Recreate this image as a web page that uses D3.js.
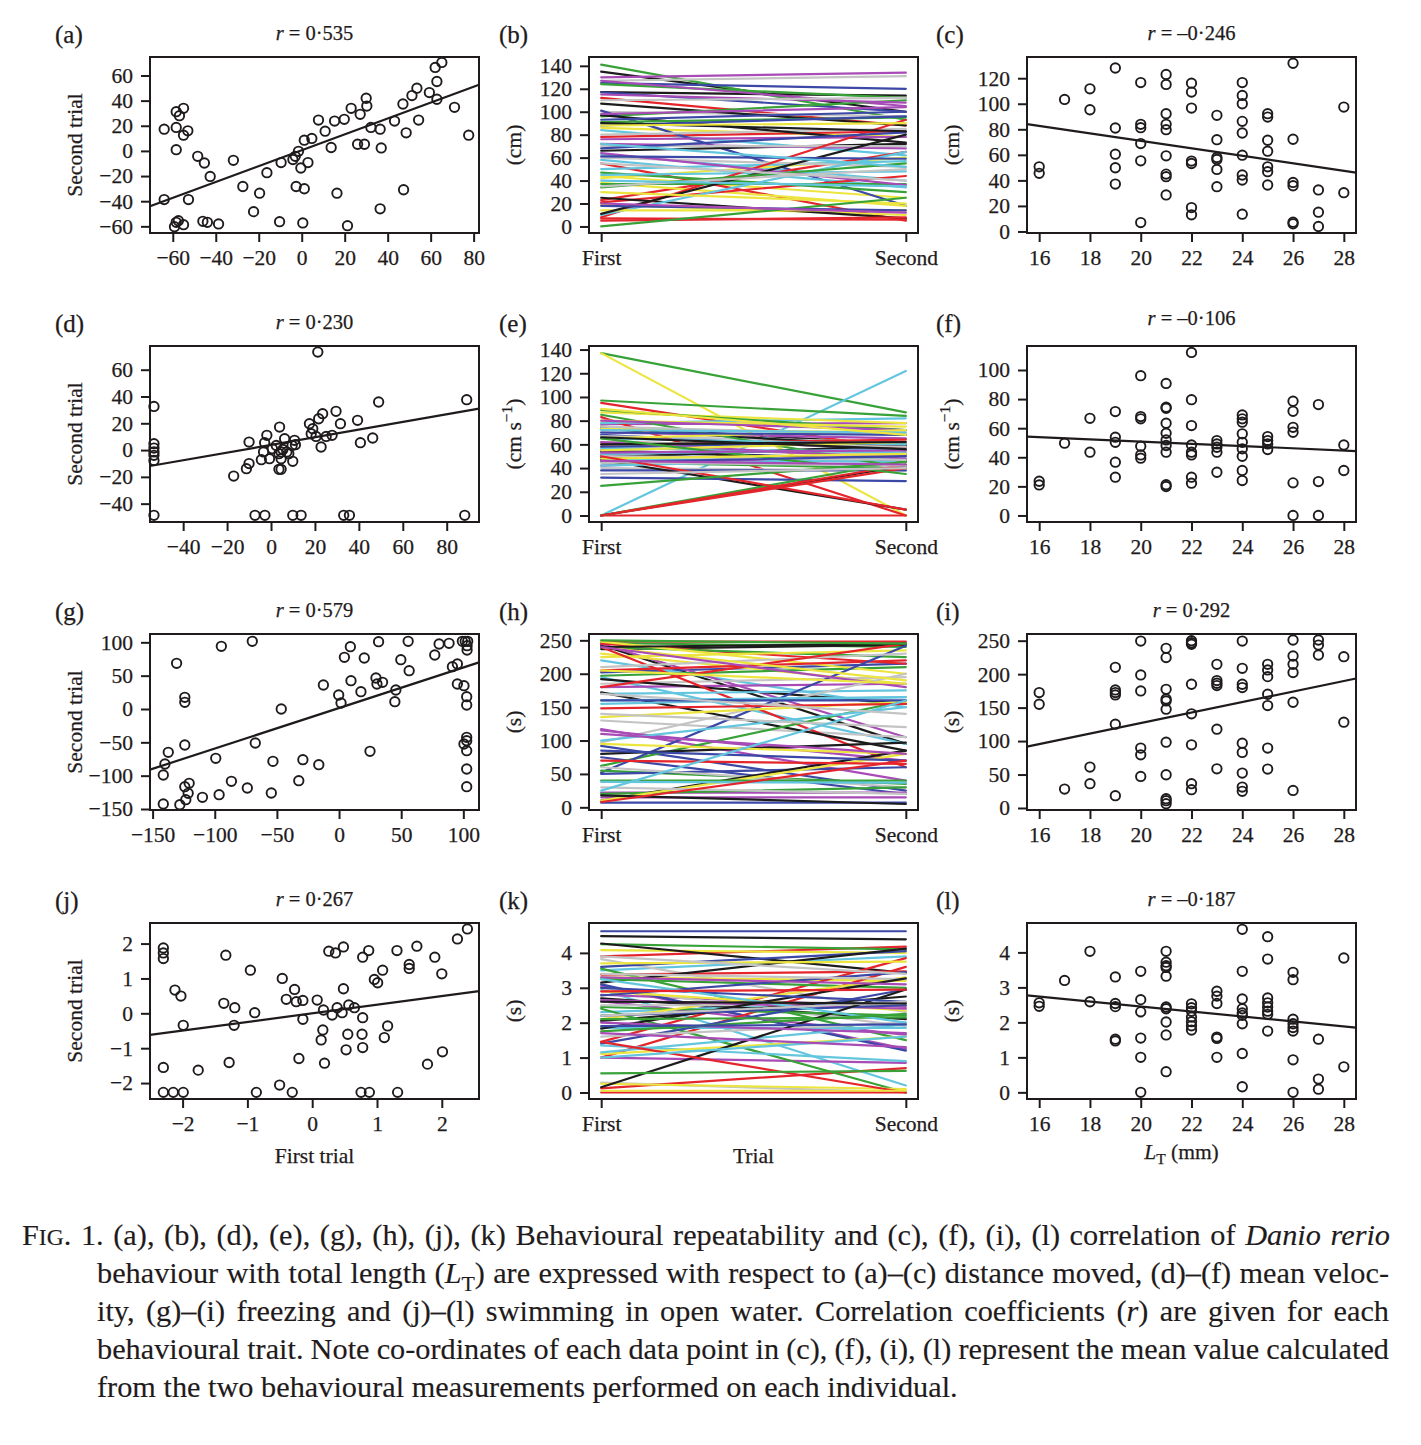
<!DOCTYPE html>
<html><head><meta charset="utf-8">
<script src="https://cdn.jsdelivr.net/npm/d3@7"></script>
<style>
body{margin:0;background:#fff;}
svg text{font-family:"Liberation Serif","Times New Roman",serif;fill:#1f1b1c;stroke:#1f1b1c;stroke-width:0.25px;}
</style></head><body>
<svg id="fig" width="1421" height="1445"></svg>
<script>
// ---------------- DATA ----------------
const trialLabels = ["First", "Second"];
const trialValues = [1, 2];

// (a) distance moved, first vs second trial
const aPts = [[-64,17.3],[-64,-38.7],[-58.4,31.2],[-56.9,28],[-55,33.9],[-58.4,18.7],[-55,12.5],[-53,16],[-58.4,1],[-58.4,-56.8],[-59.2,-60.3],[-57.4,-55.5],[-55,-58.7],[-52.7,-38.7],[-48.4,-4.3],[-45.3,-9.6],[-42.6,-20.3],[-46,-56],[-43.9,-56.8],[-38.7,-58.1],[-31.8,-7.5],[-27.4,-28.3],[-19.6,-33.6],[-22.4,-48.3],[-16.2,-17.3],[-10.3,-56.3],[-9.6,-9.3],[-4.1,-6.9],[-3,-4.3],[-1.5,-0.3],[-2.6,-28.3],[-0.4,-13.6],[1.2,8.5],[2.9,-9.3],[1.2,-30.1],[0.5,-57.3],[4.7,9.9],[7.8,24.5],[10.9,15.7],[13.7,2.7],[15.3,23.7],[16.4,-33.6],[19.8,25.1],[21.3,-59.5],[23,33.9],[27.2,29.1],[26,5.3],[29.2,5.3],[30,41.9],[30.3,35.7],[32.2,18.7],[36.5,17.3],[37,2.4],[36.5,-46.1],[43.2,23.7],[47.1,37.3],[48.6,14.4],[47.4,-30.9],[51.3,44],[53.6,49.9],[54.4,24.5],[59.4,46.4],[62.1,66.4],[62.9,55.2],[62.9,41.1],[65.2,70.4],[71.1,34.7],[77.7,12.5]];
const aFit = [0.55, 0.631];
const aXTicks = [-60,-40,-20,0,20,40,60,80];
const aYTicks = [-60,-40,-20,0,20,40,60];

// (b) distance moved (cm), first -> second trial
const bFirst  = [135,112,141,125,84,130,86,127, 117,78,124,117,63,127,44,100, 107,55,96,101,58,115,42,80, 97,23,91,93,50,76,38,60, 66,21,47,88,45,72,19,70, 25,8,37,68,10,64,14,110, 11,7,34,61,72,98,30,35, 90,5,0,18,40,20,88,55];
const bSecond = [100,88,93,120,62,134,78,131, 114,83,112,100,40,105,25,96, 88,5,110,18,34,108,60,85, 73,65,95,100,57,78,18,52, 72,44,30,96,48,68,10,70, 7,93,37,82,65,36,14,112, 80,6,55,59,52,104,20,50, 83,8,25,14,35,12,90,40];
const bYTicks = [0,20,40,60,80,100,120,140];

// (c) distance moved vs total length
const cPts = [[16,50.6],[16,45.5],[17,103.4],[18,111.7],[18,95.3],[19,128],[19,81],[19,60.5],[19,49.9],[19,37.1],[20,116.6],[20,83.9],[20,81.3],[20,68.8],[20,55.3],[20,7],[21,122.9],[21,115.1],[21,92.2],[21,83.9],[21,79.7],[21,59.2],[21,44.9],[21,42.9],[21,28.6],[22,116.1],[22,109.1],[22,96.6],[22,55.1],[22,53.2],[22,18.7],[22,13],[23,90.9],[23,71.9],[23,57.9],[23,56.4],[23,48.6],[23,35.1],[24,116.6],[24,106.5],[24,100],[24,86.2],[24,77.1],[24,59.7],[24,44.2],[24,40.3],[24,13.5],[25,92.2],[25,89.6],[25,71.4],[25,62.9],[25,50.6],[25,46.8],[25,36.4],[26,131.7],[26,72.2],[26,38.4],[26,35.8],[26,7.3],[26,6],[27,32.5],[27,15.1],[27,3.9],[28,97.4],[28,30.4]];
const cFit = [129.3, -2.92];
const lenTicks = [16,18,20,22,24,26,28];
const cYTicks = [0,20,40,60,80,100,120];

// (d) mean velocity, first vs second trial
const dPts = [[-53.3,32.6],[-53.3,4.8],[-53.3,1.5],[-53.3,-1.4],[-53.3,-3.9],[-53.3,-7.7],[-53.3,-48.7],[-17,-19.4],[-11.2,-13.9],[-10,-10.1],[-10,6],[-4.4,-7.2],[-3.4,-1.4],[-2.9,5.5],[-1.9,11],[-0.7,-6.4],[0.6,1],[2.4,3.5],[3.6,-2.7],[3.9,17.2],[3.6,-14.4],[4.6,-14.4],[4.6,-1.4],[4.6,-6.4],[5.4,0.5],[6.2,8.5],[7.2,-1.4],[8.1,-2.7],[9.6,3.5],[9.9,-8.4],[10.7,7.3],[11.1,4],[17.5,19.7],[18.3,12.2],[19,16],[20.5,10.2],[21.3,73.2],[21.7,23.4],[22.8,2.3],[23.5,27.2],[25.1,10.2],[27.8,11],[29.6,28.9],[31.6,19.7],[39.4,22.2],[40.7,5.5],[46.3,9],[49,35.9],[89.1,37.6],[-7.3,-48.7],[-2.8,-48.7],[9.9,-48.7],[13.7,-48.7],[33.1,-48.7],[35.7,-48.7],[88.2,-48.7]];
const dFit = [3.84, 0.2857];
const dXTicks = [-40,-20,0,20,40,60,80];
const dYTicks = [-40,-20,0,20,40,60];

// (e) mean velocity (cm s-1), first -> second trial
const eFirst  = [75,95,137,68,0,77,137,67, 73,83,97,55,78,70,87,40, 54,62,89,51,48,58,73,57, 49,60,85,38,57,42,80,75, 47,0,45,32,65,80,65,62, 0,0,0,58,42,62,55,50, 60,0,65,45,52,53,48,45, 66,50,25,70,72,46,90,35];
const eSecond = [60,55,87,55,122,78,0,62, 58,0,84,47,82,65,78,38, 47,58,72,46,45,50,70,52, 59,64,40,38,53,52,75,68, 5,0,40,29,60,72,72,58, 42,40,46,62,48,48,62,47, 62,43,35,50,56,55,52,42, 56,5,45,68,70,43,68,40];
const eYTicks = [0,20,40,60,80,100,120,140];

// (f) mean velocity vs total length
const fPts = [[16,23.5],[16,21],[17,49.7],[18,66.8],[18,43.5],[19,71.4],[19,53.8],[19,50.3],[19,36.6],[19,26.3],[20,96.1],[20,68],[20,66.4],[20,47.6],[20,41.6],[20,39.4],[21,90.8],[21,74.4],[21,73.7],[21,63.4],[21,56.5],[21,51.9],[21,48.1],[21,43.5],[21,21.1],[21,19.9],[22,112.1],[22,79.6],[22,61.8],[22,48.5],[22,43.5],[22,41.6],[22,26.3],[22,22.2],[23,51.5],[23,49.2],[23,46.9],[23,43.5],[23,29.7],[24,69.1],[24,66.4],[24,64.1],[24,56.1],[24,50.3],[24,45.8],[24,40.7],[24,30.9],[24,24],[25,54.2],[25,51.5],[25,49.2],[25,45.3],[26,78.5],[26,71.6],[26,60.6],[26,57.2],[26,22.4],[26,0],[27,76.2],[27,23.3],[27,0],[28,48.5],[28,30.9]];
const fFit = [66.2, -0.770];
const fYTicks = [0,20,40,60,80,100];

// (g) freezing, first vs second trial
const gPts = [[-141.4,-142.5],[-141.4,-99],[-140.1,-82.5],[-137.4,-65],[-130.7,68.5],[-128.1,-143.5],[-124.1,17.5],[-124.1,10],[-124.1,-54],[-124.1,-116.5],[-123.3,-136],[-121.4,-126.5],[-120.6,-111.5],[-109.9,-132.5],[-99.2,-74],[-96.5,-128.5],[-94.7,94],[-86.6,-108.5],[-73.8,-118.5],[-69.8,101.5],[-67.4,-51],[-54.5,-126],[-53.2,-78.5],[-46.5,0],[-29.1,-76],[-32.4,-107.5],[-16.3,-83.5],[-12.6,36],[-0.3,21],[1.6,9],[4.3,77.5],[9.1,93.5],[9.6,42.5],[17.6,26],[20.3,76.5],[24.9,-63.5],[29.7,46.5],[30.5,37.5],[31.8,101],[35,40],[44.9,11],[45.7,28.5],[49.7,74],[56.4,57.5],[55.6,101.5],[77,81],[80.5,97.5],[88.5,98.5],[91.2,63.5],[95.2,67.5],[95.2,37.5],[99.2,101.5],[100.5,35],[101.5,101.5],[103,95],[103,88.5],[100.5,-52.5],[102.7,-42.5],[102.7,-47.5],[102.7,18.5],[102.7,6],[102.7,-62.5],[102.7,-90],[102.7,-116.5],[103.5,101.5]];
const gFit = [1.5, 0.608];
const gXTicks = [-150,-100,-50,0,50,100];
const gYTicks = [-150,-100,-50,0,50,100];

// (h) freezing (s), first -> second trial
const hFirst  = [243,248,246,202,220,245,230,185, 237,245,240,92,195,180,225,130, 192,240,197,75,170,117,248,97, 172,205,62,52,160,115,135,210, 80,180,55,50,155,22,95,60, 10,148,20,7,100,15,10,140, 18,70,40,85,38,110,240,30, 240,8,250,160,25,240,205,170];
const hSecond = [95,248,240,215,150,105,185,195, 243,215,225,25,95,185,235,105, 155,60,210,20,175,40,200,200, 85,220,160,242,165,70,158,230, 97,245,35,60,165,22,80,30, 85,155,30,7,150,15,80,120, 5,65,40,70,37,80,190,20, 245,70,245,160,160,180,185,140];
const hYTicks = [0,50,100,150,200,250];

// (i) freezing vs total length
const iPts = [[16,172.5],[16,155],[17,28.3],[18,61.1],[18,36.3],[19,210.2],[19,176.4],[19,172.5],[19,169],[19,125.2],[19,18.4],[20,249.5],[20,198.8],[20,175],[20,89.5],[20,79.5],[20,47.2],[21,238.6],[21,224.7],[21,177.4],[21,163],[21,160],[21,147.6],[21,98.4],[21,49.7],[21,13.9],[21,10.9],[21,6.5],[22,250],[22,247],[22,244.5],[22,184.9],[22,140.7],[22,94.4],[22,36.3],[22,27.3],[23,214.7],[23,190.4],[23,186.4],[23,182.9],[23,117.8],[23,58.6],[24,249.5],[24,208.7],[24,184.9],[24,179.9],[24,96.9],[24,83],[24,52.2],[24,31.3],[24,24.9],[25,214.7],[25,206.3],[25,196.3],[25,170],[25,153.1],[25,89.5],[25,58.2],[26,251],[26,227.1],[26,214.7],[26,202.3],[26,158],[26,26.3],[27,251],[27,243.5],[27,228.6],[28,226.1],[28,128.2]];
const iFit = [-30.1, 7.85];
const iYTicks = [0,50,100,150,200,250];

// (j) swimming in open water, first vs second trial
const jPts = [[-2.297,1.876],[-2.297,1.733],[-2.297,1.571],[-2.297,-1.552],[-2.297,-2.267],[-2.144,-2.267],[-1.99,-2.267],[-2.118,0.667],[-2.026,0.495],[-1.99,-0.343],[-1.759,-1.629],[-1.333,1.667],[-1.364,0.286],[-1.282,-1.41],[-1.195,0.162],[-1.205,-0.343],[-0.954,1.238],[-0.887,0.019],[-0.862,-2.267],[-0.503,-2.057],[-0.462,1],[-0.4,0.4],[-0.308,-2.267],[-0.272,0.686],[-0.246,0.333],[-0.144,0.371],[-0.205,-1.295],[-0.144,-0.171],[0.077,0.381],[0.138,-0.762],[0.164,-0.476],[0.174,0.095],[0.19,-1.429],[0.256,1.781],[0.308,-0.048],[0.359,1.733],[0.385,0.162],[0.462,0.019],[0.482,1.905],[0.482,0.705],[0.523,-1.048],[0.549,-0.6],[0.564,0.238],[0.651,0.162],[0.779,-0.124],[0.769,-0.6],[0.779,-0.981],[0.779,1.61],[0.754,-2.267],[0.882,-2.267],[0.872,1.8],[0.959,0.971],[1.01,0.876],[1.087,1.238],[1.164,-0.362],[1.113,-0.695],[1.308,1.8],[1.318,-2.267],[1.497,1.4],[1.497,1.286],[1.615,1.924],[1.779,-1.457],[1.892,1.61],[2,1.133],[2.01,-1.105],[2.241,2.133],[2.395,2.419]];
const jFit = [0.0, 0.2476];
const jTicks = [-2,-1,0,1,2];

// (k) swimming in open water (s), first -> second trial
const kFirst  = [4.48,3.9,4.25,4.62,3.5,3.05,4.08,3.82, 4.27,3.38,3.55,3.6,2.95,2.8,3.3,3.0, 3.15,1.45,3.25,3.1,2.3,2.62,2.9,0.28, 2.7,1.0,2.45,2.78,1.85,1.0,2.1,2.5, 2.05,0.12,2.4,1.4,1.35,2.65,1.1,3.4, 1.83,0.0,2.1,2.2,1.15,3.3,0.25,1.6, 0.15,1.45,0.55,3.0,3.25,2.0,0.05,2.2, 2.6,2.9,1.75,1.9,1.0,1.7,3.7,3.9];
const kSecond = [4.39,4.18,4.1,4.62,3.9,1.25,4.0,2.3, 3.43,3.47,1.5,4.05,0.2,2.45,3.2,1.9, 4.12,3.85,3.0,1.2,2.6,1.65,2.35,0.0, 2.1,3.6,2.2,3.45,1.85,0.85,3.3,2.5, 2.75,0.7,0.0,2.95,0.9,2.4,1.6,3.25, 3.27,0.0,2.15,2.5,1.95,3.1,0.1,2.0, 2.95,0.0,0.62,2.6,2.0,1.7,0.05,2.6, 2.55,2.95,2.25,1.95,1.6,1.3,3.75,3.4];
const kYTicks = [0,1,2,3,4];

// (l) swimming vs total length
const lPts = [[16,2.56],[16,2.46],[17,3.2],[18,4.03],[18,2.59],[19,3.3],[19,2.54],[19,2.45],[19,1.52],[19,1.47],[20,3.46],[20,2.65],[20,2.3],[20,1.55],[20,1],[20,0],[21,4.03],[21,3.72],[21,3.62],[21,3.57],[21,3.32],[21,2.44],[21,2.39],[21,2.01],[21,1.64],[21,0.59],[22,2.53],[22,2.42],[22,2.32],[22,2.15],[22,2.02],[22,1.9],[22,1.78],[23,2.89],[23,2.75],[23,2.54],[23,1.58],[23,1.54],[23,1],[24,4.66],[24,3.46],[24,2.67],[24,2.39],[24,2.27],[24,2.2],[24,1.96],[24,1.11],[24,0.16],[25,4.45],[25,3.81],[25,2.7],[25,2.56],[25,2.44],[25,2.32],[25,2.23],[25,1.75],[26,3.43],[26,3.22],[26,2.09],[26,1.96],[26,1.85],[26,1.75],[26,0.93],[26,0],[27,1.52],[27,0.38],[27,0.09],[28,3.84],[28,0.73]];
const lFit = [3.87, -0.0709];
const lYTicks = [0,1,2,3,4];

// ---------------- STYLE / LAYOUT ----------------
const palette = ["#1c1c1c","#e4262c","#38a238","#3b48a6","#63c6de","#a84bb6","#ece540","#c4c4c4"];
const INK = "#1f1b1c";
const colX = [150, 589, 1027];
const colW = 329;
const rowY = [57, 346, 634, 923];
const rowH = 176;
const letterX = [55, 499, 936];
const TICK_FS = 21.5, TITLE_FS = 20.5, LAB_FS = 21.5, LET_FS = 25;

const unitCm = [["(cm)",""]];
const unitVel = [["(cm s",""],["\u22121","sup"],[")","back"]];
const unitS = [["(s)",""]];
const secTrial = [["Second trial",""]];

const panels = [
  {key:"a",col:0,row:0,kind:"scatter",pts:aPts,fit:aFit,r:"0\u00b7535",xDom:[-70.6,82.5],yDom:[-65.3,74.7],xTicks:aXTicks,yTicks:aYTicks,ylab:secTrial},
  {key:"b",col:1,row:0,kind:"traj",first:bFirst,second:bSecond,yDom:[-5.7,147.7],yTicks:bYTicks,ylab:unitCm},
  {key:"c",col:2,row:0,kind:"scatter",pts:cPts,fit:cFit,r:"\u20130\u00b7246",xDom:[15.52,28.48],yDom:[-1.2,136.6],xTicks:lenTicks,yTicks:cYTicks,ylab:unitCm},
  {key:"d",col:0,row:1,kind:"scatter",pts:dPts,fit:dFit,r:"0\u00b7230",xDom:[-55.1,94.7],yDom:[-53.7,77.7],xTicks:dXTicks,yTicks:dYTicks,ylab:secTrial},
  {key:"e",col:1,row:1,kind:"traj",first:eFirst,second:eSecond,yDom:[-5.5,143],yTicks:eYTicks,ylab:unitVel},
  {key:"f",col:2,row:1,kind:"scatter",pts:fPts,fit:fFit,r:"\u20130\u00b7106",xDom:[15.52,28.48],yDom:[-4.5,116.5],xTicks:lenTicks,yTicks:fYTicks,ylab:unitVel,titleUp:4},
  {key:"g",col:0,row:2,kind:"scatter",pts:gPts,fit:gFit,r:"0\u00b7579",xDom:[-152.1,112.6],yDom:[-151.5,112.5],xTicks:gXTicks,yTicks:gYTicks,ylab:secTrial},
  {key:"h",col:1,row:2,kind:"traj",first:hFirst,second:hSecond,yDom:[-4,259.5],yTicks:hYTicks,ylab:unitS},
  {key:"i",col:2,row:2,kind:"scatter",pts:iPts,fit:iFit,r:"0\u00b7292",xDom:[15.52,28.48],yDom:[-3,260],xTicks:lenTicks,yTicks:iYTicks,ylab:unitS},
  {key:"j",col:0,row:3,kind:"scatter",pts:jPts,fit:jFit,r:"0\u00b7267",xDom:[-2.503,2.574],yDom:[-2.457,2.59],xTicks:jTicks,yTicks:jTicks,ylab:secTrial},
  {key:"k",col:1,row:3,kind:"traj",first:kFirst,second:kSecond,yDom:[-0.187,4.857],yTicks:kYTicks,ylab:unitS},
  {key:"l",col:2,row:3,kind:"scatter",pts:lPts,fit:lFit,r:"\u20130\u00b7187",xDom:[15.52,28.48],yDom:[-0.19,4.84],xTicks:lenTicks,yTicks:lYTicks,ylab:unitS}
];

const svg = d3.select("#fig");
const fmt = v => (v < 0 ? "\u2212" + Math.abs(v) : String(v));

function rich(textSel, segs, fs) {
  segs.forEach(([t, s]) => {
    const ts = textSel.append("tspan").text(t);
    if (s === "i") ts.attr("font-style", "italic");
    if (s === "sup") ts.attr("font-size", fs * 0.72).attr("dy", -fs * 0.38);
    if (s === "back") ts.attr("dy", fs * 0.38);
    if (s === "sub") ts.attr("font-size", fs * 0.72).attr("dy", fs * 0.25);
    if (s === "unsub") ts.attr("dy", -fs * 0.25);
    if (s === "sc") ts.attr("font-size", fs * 0.78);
  });
}

panels.forEach(p => {
  const x0 = colX[p.col], y0 = rowY[p.row], w = colW, h = rowH;
  const g = svg.append("g");
  const xDom = p.kind === "traj" ? [0.96, 2.04] : p.xDom;
  const x = d3.scaleLinear().domain(xDom).range([x0, x0 + w]);
  const y = d3.scaleLinear().domain(p.yDom).range([y0 + h, y0]);

  if (p.kind === "traj") {
    g.selectAll("line.traj").data(d3.range(p.first.length)).join("line")
      .attr("x1", x(trialValues[0])).attr("x2", x(trialValues[1]))
      .attr("y1", i => y(p.first[i])).attr("y2", i => y(p.second[i]))
      .attr("stroke", i => palette[i % palette.length])
      .attr("stroke-width", 2.2).attr("stroke-linecap", "round");
  } else {
    g.selectAll("circle").data(p.pts).join("circle")
      .attr("cx", d => x(d[0])).attr("cy", d => y(d[1])).attr("r", 4.7)
      .attr("fill", "none").attr("stroke", INK).attr("stroke-width", 1.9);
    const [b0, b1] = p.fit;
    g.append("line")
      .attr("x1", x(xDom[0])).attr("y1", y(b0 + b1 * xDom[0]))
      .attr("x2", x(xDom[1])).attr("y2", y(b0 + b1 * xDom[1]))
      .attr("stroke", INK).attr("stroke-width", 2.2);
    const t = g.append("text").attr("x", x0 + w / 2).attr("y", y0 - 17 - (p.titleUp || 0))
      .attr("text-anchor", "middle").attr("font-size", TITLE_FS);
    rich(t, [["r", "i"], [" = " + p.r, ""]], TITLE_FS);
  }

  g.append("rect").attr("x", x0).attr("y", y0).attr("width", w).attr("height", h)
    .attr("fill", "none").attr("stroke", INK).attr("stroke-width", 2);

  const ya = g.append("g").attr("transform", `translate(${x0},0)`)
    .call(d3.axisLeft(y).tickValues(p.yTicks).tickSize(9).tickPadding(8).tickFormat(fmt));
  const xa = g.append("g").attr("transform", `translate(0,${y0 + h})`)
    .call(p.kind === "traj"
      ? d3.axisBottom(x).tickValues(trialValues).tickSize(9).tickPadding(8).tickFormat((d, i) => trialLabels[i])
      : d3.axisBottom(x).tickValues(p.xTicks).tickSize(9).tickPadding(8).tickFormat(fmt));
  [ya, xa].forEach(a => {
    a.attr("font-family", null).attr("font-size", TICK_FS);
    a.select(".domain").remove();
    a.selectAll("line").attr("stroke", INK).attr("stroke-width", 2);
    a.selectAll("text").attr("fill", INK);
  });

  // y label
  const yl = g.append("text")
    .attr("transform", `translate(${x0 - 76},${y0 + h / 2}) rotate(-90)`)
    .attr("text-anchor", "middle").attr("dy", "0.35em").attr("font-size", LAB_FS);
  rich(yl, p.ylab, LAB_FS);

  // panel letter
  g.append("text").attr("x", letterX[p.col]).attr("y", y0 - 14)
    .attr("font-size", LET_FS).text("(" + p.key + ")");
});

// bottom x-axis titles
const bottomY = rowY[3] + rowH + 64;
svg.append("text").attr("x", colX[0] + colW / 2).attr("y", bottomY).attr("text-anchor", "middle")
  .attr("font-size", LAB_FS).text("First trial");
svg.append("text").attr("x", colX[1] + colW / 2).attr("y", bottomY).attr("text-anchor", "middle")
  .attr("font-size", LAB_FS).text("Trial");
const lt = svg.append("text").attr("x", colX[2] + colW / 2 - 10).attr("y", bottomY - 4).attr("text-anchor", "middle")
  .attr("font-size", LAB_FS);
rich(lt, [["L", "i"], ["T", "sub"], [" (mm)", "unsub"]], LAB_FS);

// caption
const capLines = [
  {x: 22, right: 1390, justify: true, segs: [["F",""],["IG","sc"],[". 1. (a), (b), (d), (e), (g), (h), (j), (k) Behavioural repeatability and (c), (f), (i), (l) correlation of ",""],["Danio rerio","i"]]},
  {x: 97, right: 1389, justify: true, segs: [["behaviour with total length (",""],["L","i"],["T","sub"],[") are expressed with respect to (a)\u2013(c) distance moved, (d)\u2013(f) mean veloc-","unsub"]]},
  {x: 97, right: 1389, justify: true, segs: [["ity, (g)\u2013(i) freezing and (j)\u2013(l) swimming in open water. Correlation coefficients (",""],["r","i"],[") are given for each",""]]},
  {x: 97, right: 1389, justify: true, segs: [["behavioural trait. Note co-ordinates of each data point in (c), (f), (i), (l) represent the mean value calculated",""]]},
  {x: 97, right: 958, justify: false, segs: [["from the two behavioural measurements performed on each individual.",""]]}
];
const probe = svg.append("text").attr("font-size", 100).text(capLines[4].segs[0][0]);
const capFS = 100 * (958 - 97) / probe.node().getComputedTextLength();
probe.remove();
const capBase = [1245, 1283, 1321, 1359, 1397];
capLines.forEach((L, i) => {
  const t = svg.append("text").attr("x", L.x).attr("y", capBase[i]).attr("font-size", capFS)
    .style("stroke-width", "0.15px");
  rich(t, L.segs, capFS);
  if (L.justify) {
    const wNat = t.node().getComputedTextLength();
    const full = L.segs.map(s => s[0]).join("");
    const nSp = (full.match(/ /g) || []).length;
    t.attr("word-spacing", ((L.right - L.x) - wNat) / nSp);
  }
});
</script>
</body></html>
